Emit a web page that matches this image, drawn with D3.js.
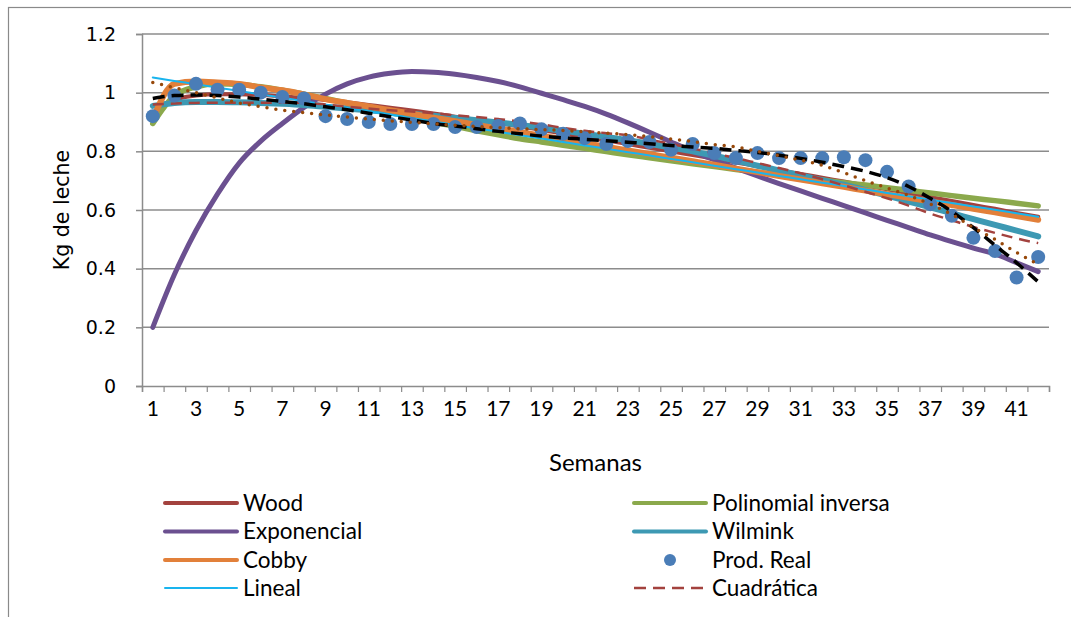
<!DOCTYPE html>
<html>
<head>
<meta charset="utf-8">
<script src="https://cdn.jsdelivr.net/npm/d3@7"></script>
<style>
  html, body { margin: 0; padding: 0; background: #fff; }
  svg { display: block; }
</style>
</head>
<body>
<svg id="chart" width="1071" height="617"></svg>
<script>
// Semanas de lactancia
const weeks = d3.range(1, 43);

// Producción real (kg de leche por semana)
const prodReal = [0.92, 0.99, 1.03, 1.01, 1.01, 1.00, 0.985, 0.98, 0.92, 0.91,
  0.90, 0.893, 0.893, 0.893, 0.883, 0.883, 0.886, 0.895, 0.875, 0.86,
  0.845, 0.825, 0.835, 0.832, 0.805, 0.825, 0.794, 0.777, 0.794, 0.777,
  0.777, 0.777, 0.78, 0.77, 0.73, 0.68, 0.62, 0.58, 0.505, 0.46,
  0.37, 0.44];

// Modelos ajustados
const wood = [0.93, 0.975, 0.99, 0.995, 0.995, 0.992, 0.988, 0.982, 0.975, 0.967,
  0.958, 0.949, 0.939, 0.929, 0.918, 0.907, 0.896, 0.885, 0.873, 0.861,
  0.849, 0.837, 0.825, 0.812, 0.80, 0.787, 0.775, 0.762, 0.749, 0.736,
  0.723, 0.71, 0.697, 0.684, 0.671, 0.657, 0.644, 0.631, 0.617, 0.604,
  0.59, 0.577];

const polInversa = [0.895, 0.99, 1.02, 1.03, 1.028, 1.02, 1.008, 0.995, 0.98, 0.964,
  0.948, 0.932, 0.916, 0.90, 0.885, 0.87, 0.856, 0.843, 0.832, 0.821,
  0.81, 0.799, 0.788, 0.778, 0.768, 0.758, 0.748, 0.738, 0.729, 0.72,
  0.711, 0.702, 0.693, 0.685, 0.676, 0.667, 0.658, 0.649, 0.64, 0.632,
  0.623, 0.614];

const exponencial = [0.20, 0.38, 0.53, 0.655, 0.76, 0.835, 0.895, 0.95, 0.995, 1.03,
  1.053, 1.066, 1.072, 1.07, 1.063, 1.052, 1.038, 1.02, 0.998, 0.976,
  0.953, 0.927, 0.897, 0.865, 0.832, 0.80, 0.771, 0.743, 0.716, 0.69,
  0.665, 0.64, 0.615, 0.59, 0.565, 0.54, 0.515, 0.492, 0.47, 0.45,
  0.42, 0.39];

const wilmink = [0.955, 0.965, 0.968, 0.968, 0.967, 0.965, 0.962, 0.958, 0.952, 0.946,
  0.94, 0.934, 0.928, 0.921, 0.914, 0.906, 0.898, 0.89, 0.88, 0.87,
  0.86, 0.849, 0.838, 0.826, 0.813, 0.80, 0.785, 0.768, 0.751, 0.735,
  0.718, 0.702, 0.686, 0.668, 0.649, 0.629, 0.609, 0.589, 0.569, 0.549,
  0.53, 0.51];

const cobby = [0.91, 1.03, 1.038, 1.035, 1.03, 1.018, 1.008, 0.994, 0.978, 0.965,
  0.953, 0.94, 0.928, 0.915, 0.903, 0.89, 0.878, 0.866, 0.853, 0.841,
  0.828, 0.816, 0.803, 0.791, 0.778, 0.766, 0.754, 0.741, 0.729, 0.716,
  0.704, 0.691, 0.679, 0.666, 0.654, 0.642, 0.629, 0.617, 0.604, 0.592,
  0.579, 0.567];

const lineal = [1.052, 1.040, 1.029, 1.017, 1.006, 0.994, 0.983, 0.971, 0.959, 0.948,
  0.936, 0.925, 0.913, 0.902, 0.890, 0.878, 0.867, 0.855, 0.844, 0.832,
  0.820, 0.809, 0.797, 0.786, 0.774, 0.763, 0.751, 0.739, 0.728, 0.716,
  0.705, 0.693, 0.682, 0.670, 0.658, 0.647, 0.635, 0.624, 0.612, 0.601,
  0.589, 0.577];

const cuadratica = [0.96, 0.963, 0.965, 0.966, 0.966, 0.966, 0.966, 0.965, 0.96, 0.952,
  0.946, 0.94, 0.936, 0.93, 0.923, 0.917, 0.91, 0.902, 0.892, 0.88,
  0.87, 0.862, 0.855, 0.84, 0.825, 0.81, 0.793, 0.777, 0.76, 0.743,
  0.725, 0.705, 0.684, 0.662, 0.64, 0.615, 0.588, 0.565, 0.542, 0.522,
  0.503, 0.487];

// Líneas de tendencia sobre la producción real
const tendenciaA = [0.98, 0.99, 0.992, 0.99, 0.985, 0.978, 0.97, 0.962, 0.952, 0.942,
  0.93, 0.918, 0.907, 0.895, 0.886, 0.877, 0.868, 0.86, 0.852, 0.846,
  0.841, 0.836, 0.831, 0.826, 0.82, 0.815, 0.81, 0.803, 0.796, 0.787,
  0.776, 0.763, 0.748, 0.732, 0.71, 0.68, 0.64, 0.595, 0.54, 0.48,
  0.42, 0.355];

const tendenciaB = [1.035, 1.017, 1.0, 0.982, 0.965, 0.952, 0.94, 0.932, 0.924, 0.917,
  0.91, 0.904, 0.899, 0.894, 0.889, 0.885, 0.881, 0.877, 0.874, 0.871,
  0.867, 0.862, 0.857, 0.85, 0.842, 0.833, 0.823, 0.815, 0.80, 0.785,
  0.77, 0.752, 0.727, 0.70, 0.675, 0.65, 0.62, 0.585, 0.54, 0.50,
  0.455, 0.415];

const yTicks = [0, 0.2, 0.4, 0.6, 0.8, 1.0, 1.2];
const xTickLabels = weeks.filter(w => w % 2 === 1);

const svg = d3.select("#chart");
const W = 1071, H = 617;
const plot = { left: 142, right: 1049, top: 34, bottom: 386 };
const baseFont = "Lato, 'Liberation Sans', sans-serif";
const wideFont = "'DejaVu Sans', Verdana, sans-serif";
const narrowFont = "'Liberation Sans Narrow', 'Arial Narrow', Lato, sans-serif";

svg.append("rect").attr("width", W).attr("height", H).attr("fill", "#fff");
// chart area frame
svg.append("rect")
  .attr("x", 8.5).attr("y", 7.5).attr("width", W).attr("height", H)
  .attr("fill", "none").attr("stroke", "#8a8a8a").attr("stroke-width", 1.2);

const x = d3.scaleBand().domain(weeks).range([plot.left, plot.right]).paddingInner(0).paddingOuter(0);
const xEdge = d3.scaleLinear().domain([0, weeks.length]).range([plot.left, plot.right]);
const y = d3.scaleLinear().domain([0, 1.2]).range([plot.bottom, plot.top]);
const cx = w => x(w) + x.bandwidth() / 2;

// horizontal gridlines
svg.append("g").selectAll("line")
  .data(yTicks.filter(v => v > 0))
  .join("line")
  .attr("x1", plot.left).attr("x2", plot.right)
  .attr("y1", d => y(d)).attr("y2", d => y(d))
  .attr("stroke", "#8c8c8c").attr("stroke-width", 1.5);

// y axis
const yAxis = svg.append("g").attr("transform", `translate(${plot.left},0)`)
  .call(d3.axisLeft(y).tickValues(yTicks).tickSize(6).tickPadding(20)
    .tickFormat(d => String(+d.toFixed(1))));
yAxis.select(".domain").attr("stroke", "#8c8c8c").attr("stroke-width", 1.5);
yAxis.selectAll(".tick line").attr("stroke", "#8c8c8c").attr("stroke-width", 1.5);
yAxis.selectAll("text").style("font-family", wideFont).style("font-size", "19px").attr("fill", "#000");

// x axis: tick marks between categories
const xAxisTicks = svg.append("g").attr("transform", `translate(0,${plot.bottom})`)
  .call(d3.axisBottom(xEdge).tickValues(d3.range(0, weeks.length + 1)).tickSize(6).tickFormat(""));
xAxisTicks.select(".domain").attr("stroke", "#8c8c8c").attr("stroke-width", 1.5);
xAxisTicks.selectAll(".tick line").attr("stroke", "#8c8c8c").attr("stroke-width", 1.2);

// x axis labels (odd weeks)
const xAxisLabels = svg.append("g").attr("transform", `translate(0,${plot.bottom})`)
  .call(d3.axisBottom(x).tickValues(xTickLabels).tickSize(0).tickPadding(15));
xAxisLabels.select(".domain").remove();
xAxisLabels.selectAll("text").style("font-family", narrowFont).style("font-size", "21px").attr("fill", "#000");

// axis titles
svg.append("text").attr("x", (plot.left + plot.right) / 2).attr("y", 471)
  .attr("text-anchor", "middle").style("font-family", baseFont).style("font-size", "24px")
  .text("Semanas");
svg.append("text")
  .attr("transform", `translate(69,${(plot.top + plot.bottom) / 2}) rotate(-90)`)
  .attr("text-anchor", "middle").style("font-family", wideFont).style("font-size", "20.5px")
  .text("Kg de leche");

const line = d3.line().x((d, i) => cx(weeks[i])).y(d => y(d)).curve(d3.curveMonotoneX);

const series = [
  { name: "Wood", values: wood, color: "#A3423E", width: 4 },
  { name: "Polinomial inversa", values: polInversa, color: "#8BA94C", width: 5.5 },
  { name: "Exponencial", values: exponencial, color: "#6B5090", width: 5 },
  { name: "Wilmink", values: wilmink, color: "#3D99B3", width: 6 },
  { name: "Cobby", values: cobby, color: "#E2803A", width: 6 },
  { name: "Lineal", values: lineal, color: "#19B4EE", width: 2 },
  { name: "Cuadrática", values: cuadratica, color: "#A3423E", width: 2.5, dash: "11 7" }
];

const gLines = svg.append("g");
series.forEach(s => {
  gLines.append("path")
    .attr("d", line(s.values))
    .attr("fill", "none")
    .attr("stroke", s.color)
    .attr("stroke-width", s.width)
    .attr("stroke-linejoin", "round")
    .attr("stroke-linecap", s.dash ? "butt" : "round")
    .attr("stroke-dasharray", s.dash || null);
});

// producción real
svg.append("g").selectAll("circle")
  .data(prodReal)
  .join("circle")
  .attr("cx", (d, i) => cx(weeks[i]))
  .attr("cy", d => y(d))
  .attr("r", 7)
  .attr("fill", "#4A7DB7");

// tendencias
svg.append("path").attr("d", line(tendenciaA))
  .attr("fill", "none").attr("stroke", "#000").attr("stroke-width", 3.5)
  .attr("stroke-dasharray", "12 7");
svg.append("path").attr("d", line(tendenciaB))
  .attr("fill", "none").attr("stroke", "#97480A").attr("stroke-width", 3.5)
  .attr("stroke-linecap", "round").attr("stroke-dasharray", "0 9");

// legend
const legendItems = [
  { name: "Wood", col: 0, row: 0, type: "line", color: "#A3423E", width: 4 },
  { name: "Exponencial", col: 0, row: 1, type: "line", color: "#6B5090", width: 4 },
  { name: "Cobby", col: 0, row: 2, type: "line", color: "#E2803A", width: 4 },
  { name: "Lineal", col: 0, row: 3, type: "line", color: "#19B4EE", width: 2 },
  { name: "Polinomial inversa", col: 1, row: 0, type: "line", color: "#8BA94C", width: 4 },
  { name: "Wilmink", col: 1, row: 1, type: "line", color: "#3D99B3", width: 4 },
  { name: "Prod. Real", col: 1, row: 2, type: "dot", color: "#4A7DB7" },
  { name: "Cuadrática", col: 1, row: 3, type: "line", color: "#A3423E", width: 2.5, dash: "12 7" }
];
const colX = [165, 634];
const rowY = [503, 531.5, 560, 588];
const gLeg = svg.append("g");
legendItems.forEach(it => {
  const x0 = colX[it.col], yy = rowY[it.row];
  if (it.type === "line") {
    gLeg.append("line").attr("x1", x0).attr("x2", x0 + 72).attr("y1", yy).attr("y2", yy)
      .attr("stroke", it.color).attr("stroke-width", it.width)
      .attr("stroke-linecap", it.dash ? "butt" : "round")
      .attr("stroke-dasharray", it.dash || null);
  } else {
    gLeg.append("circle").attr("cx", x0 + 36).attr("cy", yy).attr("r", 6).attr("fill", it.color);
  }
  gLeg.append("text").attr("x", x0 + 78).attr("y", yy).attr("dy", "0.35em")
    .style("font-family", baseFont).style("font-size", "22.5px").text(it.name);
});
</script>
</body>
</html>
